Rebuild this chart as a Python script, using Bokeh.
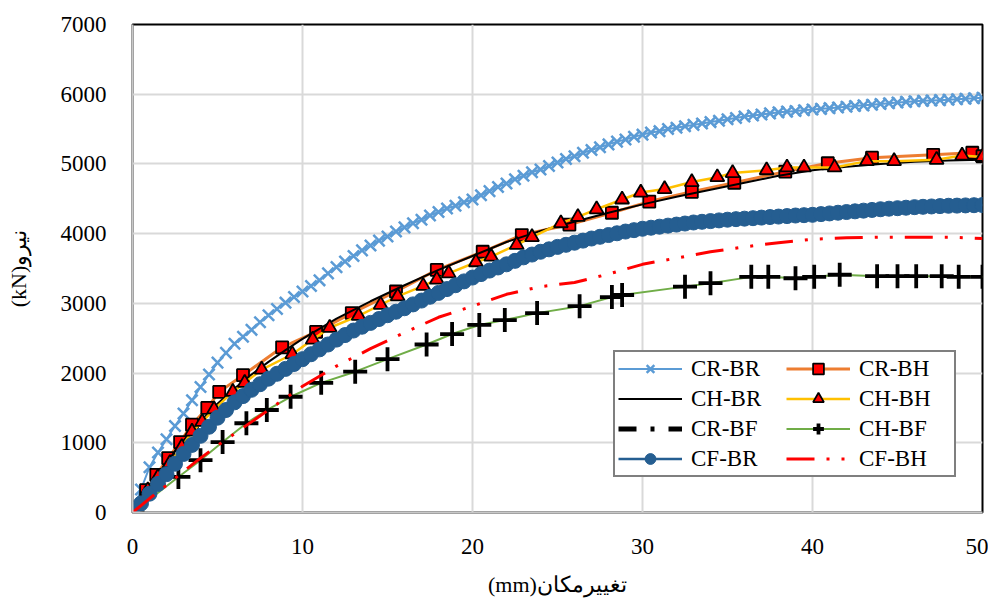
from bokeh.plotting import figure
from bokeh.models import Legend, LegendItem, Range1d, FixedTicker
from bokeh.embed import file_html
from bokeh.resources import INLINE

# ---------------- data ----------------
x_ticks = [0, 10, 20, 30, 40, 50]
y_ticks = [0, 1000, 2000, 3000, 4000, 5000, 6000, 7000]

disp_dense = [0, 0.5, 1, 1.5, 2, 2.5, 3, 3.5, 4, 4.5, 5, 5.5, 6, 6.5, 7, 7.5, 8, 8.5, 9, 9.5,
              10, 10.5, 11, 11.5, 12, 12.5, 13, 13.5, 14, 14.5, 15, 15.5, 16, 16.5, 17, 17.5, 18, 18.5, 19, 19.5,
              20, 20.5, 21, 21.5, 22, 22.5, 23, 23.5, 24, 24.5, 25, 25.5, 26, 26.5, 27, 27.5, 28, 28.5, 29, 29.5,
              30, 30.5, 31, 31.5, 32, 32.5, 33, 33.5, 34, 34.5, 35, 35.5, 36, 36.5, 37, 37.5, 38, 38.5, 39, 39.5,
              40, 40.5, 41, 41.5, 42, 42.5, 43, 43.5, 44, 44.5, 45, 45.5, 46, 46.5, 47, 47.5, 48, 48.5, 49, 49.5, 50]

cr_br = [0, 330, 650, 860, 1050, 1240, 1420, 1610, 1800, 1980, 2150, 2290, 2420, 2520, 2620, 2730, 2830, 2920, 3010, 3090,
         3170, 3250, 3330, 3430, 3520, 3600, 3680, 3760, 3830, 3900, 3960, 4030, 4090, 4150, 4200, 4260, 4310, 4360, 4400, 4450,
         4490, 4550, 4610, 4670, 4720, 4780, 4830, 4880, 4920, 4970, 5020, 5070, 5110, 5160, 5200, 5240, 5280, 5320, 5350, 5390,
         5420, 5450, 5470, 5500, 5520, 5540, 5560, 5580, 5600, 5620, 5640, 5660, 5680, 5695, 5710, 5725, 5740, 5750, 5760, 5770,
         5780, 5790, 5800, 5810, 5820, 5830, 5840, 5850, 5860, 5870, 5880, 5890, 5900, 5905, 5910, 5915, 5920, 5928, 5935, 5942, 5950]

cf_br = [0, 130, 270, 410, 550, 700, 840, 970, 1100, 1230, 1360, 1470, 1580, 1670, 1760, 1840, 1920, 1990, 2060, 2130,
         2200, 2270, 2340, 2410, 2480, 2545, 2610, 2665, 2720, 2775, 2830, 2880, 2930, 2985, 3040, 3095, 3150, 3205, 3260, 3315,
         3370, 3420, 3470, 3515, 3560, 3610, 3660, 3700, 3740, 3775, 3810, 3840, 3870, 3900, 3930, 3955, 3980, 4005, 4030, 4050,
         4070, 4085, 4100, 4115, 4130, 4145, 4160, 4170, 4180, 4190, 4200, 4208, 4215, 4222, 4230, 4238, 4245, 4252, 4260, 4265,
         4270, 4280, 4290, 4300, 4310, 4320, 4330, 4340, 4350, 4358, 4365, 4372, 4380, 4385, 4390, 4395, 4400, 4402, 4405, 4408, 4410]

cr_bh_x = [0, 0.8, 1.4, 2.1, 2.8, 3.5, 4.4, 5.1, 6.5, 8.8, 10.8, 12.9, 15.5, 17.9, 20.6, 22.9, 25.7, 28.2,
           30.4, 32.9, 35.4, 38.4, 40.9, 43.5, 47.1, 49.4, 50]
cr_bh = [0, 320, 540, 780, 1010, 1260, 1500, 1730, 1970, 2370, 2590, 2860, 3170, 3480, 3740, 3980, 4130, 4300,
         4460, 4600, 4730, 4890, 5010, 5090, 5130, 5160, 5110]

ch_br_x = [0, 1, 2, 3, 4, 5, 6, 7, 8, 9, 10, 12, 14, 16, 18, 20, 22, 24, 26, 28, 30, 32, 34, 36, 38, 40, 42, 44, 46, 48, 50]
ch_br = [0, 380, 720, 1030, 1310, 1560, 1780, 1980, 2160, 2330, 2490, 2780, 3030, 3260, 3480, 3680, 3880, 4040,
         4170, 4300, 4420, 4530, 4630, 4730, 4830, 4910, 4960, 5000, 5030, 5050, 5060]

ch_bh_x = [0, 0.9, 1.5, 2.2, 2.9, 3.5, 4.1, 4.8, 5.9, 6.6, 7.6, 9.4, 10.6, 11.6, 13.3, 14.6, 15.6, 17.1, 17.9, 18.6,
           20.2, 21.1, 22.6, 23.5, 25.2, 26.2, 27.3, 28.8, 29.9, 31.3, 32.9, 34.4, 35.3, 37.3, 38.5, 39.5, 41.3,
           43.2, 44.8, 47.3, 48.8, 50]
ch_bh = [0, 320, 510, 710, 940, 1160, 1300, 1480, 1730, 1860, 2050, 2270, 2480, 2650, 2820, 2980, 3100, 3250, 3340, 3430,
         3590, 3670, 3840, 3950, 4150, 4240, 4350, 4490, 4590, 4640, 4740, 4810, 4870, 4910, 4950, 4950, 4950,
         5040, 5040, 5060, 5120, 5100]

cr_bf_x = [0, 2, 4, 6, 8, 10, 12, 14, 16, 18, 20, 22, 24, 26, 28, 30, 32, 34, 36, 38, 40, 42, 44, 46, 48, 50]
cr_bf = [0, 560, 1110, 1590, 1930, 2210, 2490, 2730, 2940, 3160, 3380, 3570, 3750, 3880, 3990, 4080, 4140,
         4190, 4220, 4250, 4280, 4320, 4350, 4380, 4400, 4410]

ch_bf_x = [0, 2.7, 4.0, 5.3, 6.7, 7.9, 9.3, 11.1, 13.1, 15.0, 17.3, 18.8, 20.4, 21.9, 23.8, 26.3, 28.2, 28.8,
           32.5, 34.0, 36.4, 37.4, 39.0, 40.1, 41.6, 43.8, 45.0, 46.1, 47.6, 48.6, 50]
ch_bf = [0, 510, 750, 1010, 1280, 1470, 1660, 1860, 2020, 2200, 2410, 2560, 2690, 2760, 2860, 2960, 3090, 3120,
         3240, 3290, 3380, 3380, 3360, 3380, 3410, 3390, 3390, 3390, 3390, 3380, 3380]

cf_bh_x = [0, 1, 2, 3, 4, 5, 6, 7, 8, 9, 10, 12, 14, 16, 18, 20, 22, 24, 26, 28, 30, 32, 34, 36, 38, 40, 42, 44, 46, 48, 50]
cf_bh = [0, 200, 390, 590, 780, 960, 1130, 1300, 1470, 1640, 1810, 2100, 2350, 2580, 2800, 2960, 3130, 3240,
         3300, 3420, 3560, 3650, 3740, 3810, 3870, 3920, 3940, 3950, 3950, 3950, 3930]

x_title = "(mm)تغییرمکان"
y_title = "(kN)نیرو"

FONT = "Liberation Serif"
AXFONT = "serif"

p = figure(frame_width=850, frame_height=488, x_range=Range1d(0, 50), y_range=Range1d(0, 7000),
           output_backend="svg", toolbar_location=None,
           min_border_left=132, min_border_right=6, min_border_top=24, min_border_bottom=70)
p.background_fill_color = "white"
p.border_fill_color = "white"
p.outline_line_color = "black"
p.outline_line_width = 2

p.xaxis.ticker = FixedTicker(ticks=x_ticks)
p.yaxis.ticker = FixedTicker(ticks=y_ticks)
for ax in (p.xaxis[0], p.yaxis[0]):
    ax.axis_line_color = "#C8C8C8"
    ax.axis_line_width = 2
    ax.major_tick_line_color = None
    ax.minor_tick_line_color = None
    ax.major_label_text_font = AXFONT
    ax.major_label_text_font_size = "23px"
    ax.major_label_text_color = "black"
    ax.axis_label_text_font = AXFONT
    ax.axis_label_text_font_size = "22px"
    ax.axis_label_text_font_style = "normal"
    ax.axis_label_text_color = "black"
p.xaxis.major_label_standoff = 20
p.yaxis.major_label_standoff = 20
p.xaxis.axis_label = x_title
p.yaxis.axis_label = y_title
p.xaxis.axis_label_standoff = 15
p.yaxis.axis_label_standoff = 27

p.xgrid.grid_line_color = "#D9D9D9"
p.ygrid.grid_line_color = "#D9D9D9"
p.xgrid.grid_line_width = 2
p.ygrid.grid_line_width = 2

# series
r1l = p.line(disp_dense, cr_br, line_color="#5B9BD5", line_width=2)
r1m = p.scatter(disp_dense, cr_br, marker="x", size=16, line_color="#5B9BD5", line_width=2.5)

r2l = p.line(cr_bh_x, cr_bh, line_color="#ED7D31", line_width=3)
r2m = p.scatter(cr_bh_x, cr_bh, marker="square", size=12, fill_color="#FF0000", line_color="black", line_width=1.8)

r3l = p.line(ch_br_x, ch_br, line_color="black", line_width=2)

r4l = p.line(ch_bh_x, ch_bh, line_color="#FFC000", line_width=2.5)
r4m = p.scatter(ch_bh_x, ch_bh, marker="triangle", size=14, fill_color="#FF0000", line_color="black", line_width=1.8)

r5l = p.line(cr_bf_x, cr_bf, line_color="black", line_width=5, line_dash="18 14 4 14")

r6l = p.line(ch_bf_x, ch_bf, line_color="#70AD47", line_width=2)
r6m = p.scatter(ch_bf_x, ch_bf, marker="cross", size=24, line_color="black", line_width=3.8)

r7l = p.line(disp_dense, cf_br, line_color="#255E91", line_width=2.5)
r7m = p.scatter(disp_dense, cf_br, marker="circle", size=15, fill_color="#255E91", line_color="#255E91", line_width=1)

r8l = p.line(cf_bh_x, cf_bh, line_color="#FF0000", line_width=3, line_dash="28 12 3 12 3 12")

items = [
    LegendItem(label="CR-BR", renderers=[r1l, r1m]),
    LegendItem(label="CR-BH", renderers=[r2l, r2m]),
    LegendItem(label="CH-BR", renderers=[r3l]),
    LegendItem(label="CH-BH", renderers=[r4l, r4m]),
    LegendItem(label="CR-BF", renderers=[r5l]),
    LegendItem(label="CH-BF", renderers=[r6l, r6m]),
    LegendItem(label="CF-BR", renderers=[r7l, r7m]),
    LegendItem(label="CF-BH", renderers=[r8l]),
]
legend = Legend(items=items, location=(481, 35), orientation="horizontal", ncols=2,
                label_text_font=FONT, label_text_font_size="23px", label_text_color="black",
                glyph_width=64, glyph_height=27, label_height=23, label_width=92, label_standoff=9,
                spacing=3, padding=3, margin=0,
                border_line_color="black", border_line_width=2, background_fill_color="white",
                background_fill_alpha=1.0)
p.add_layout(legend, "center")

open("out.html", "w").write(file_html(p, INLINE))
